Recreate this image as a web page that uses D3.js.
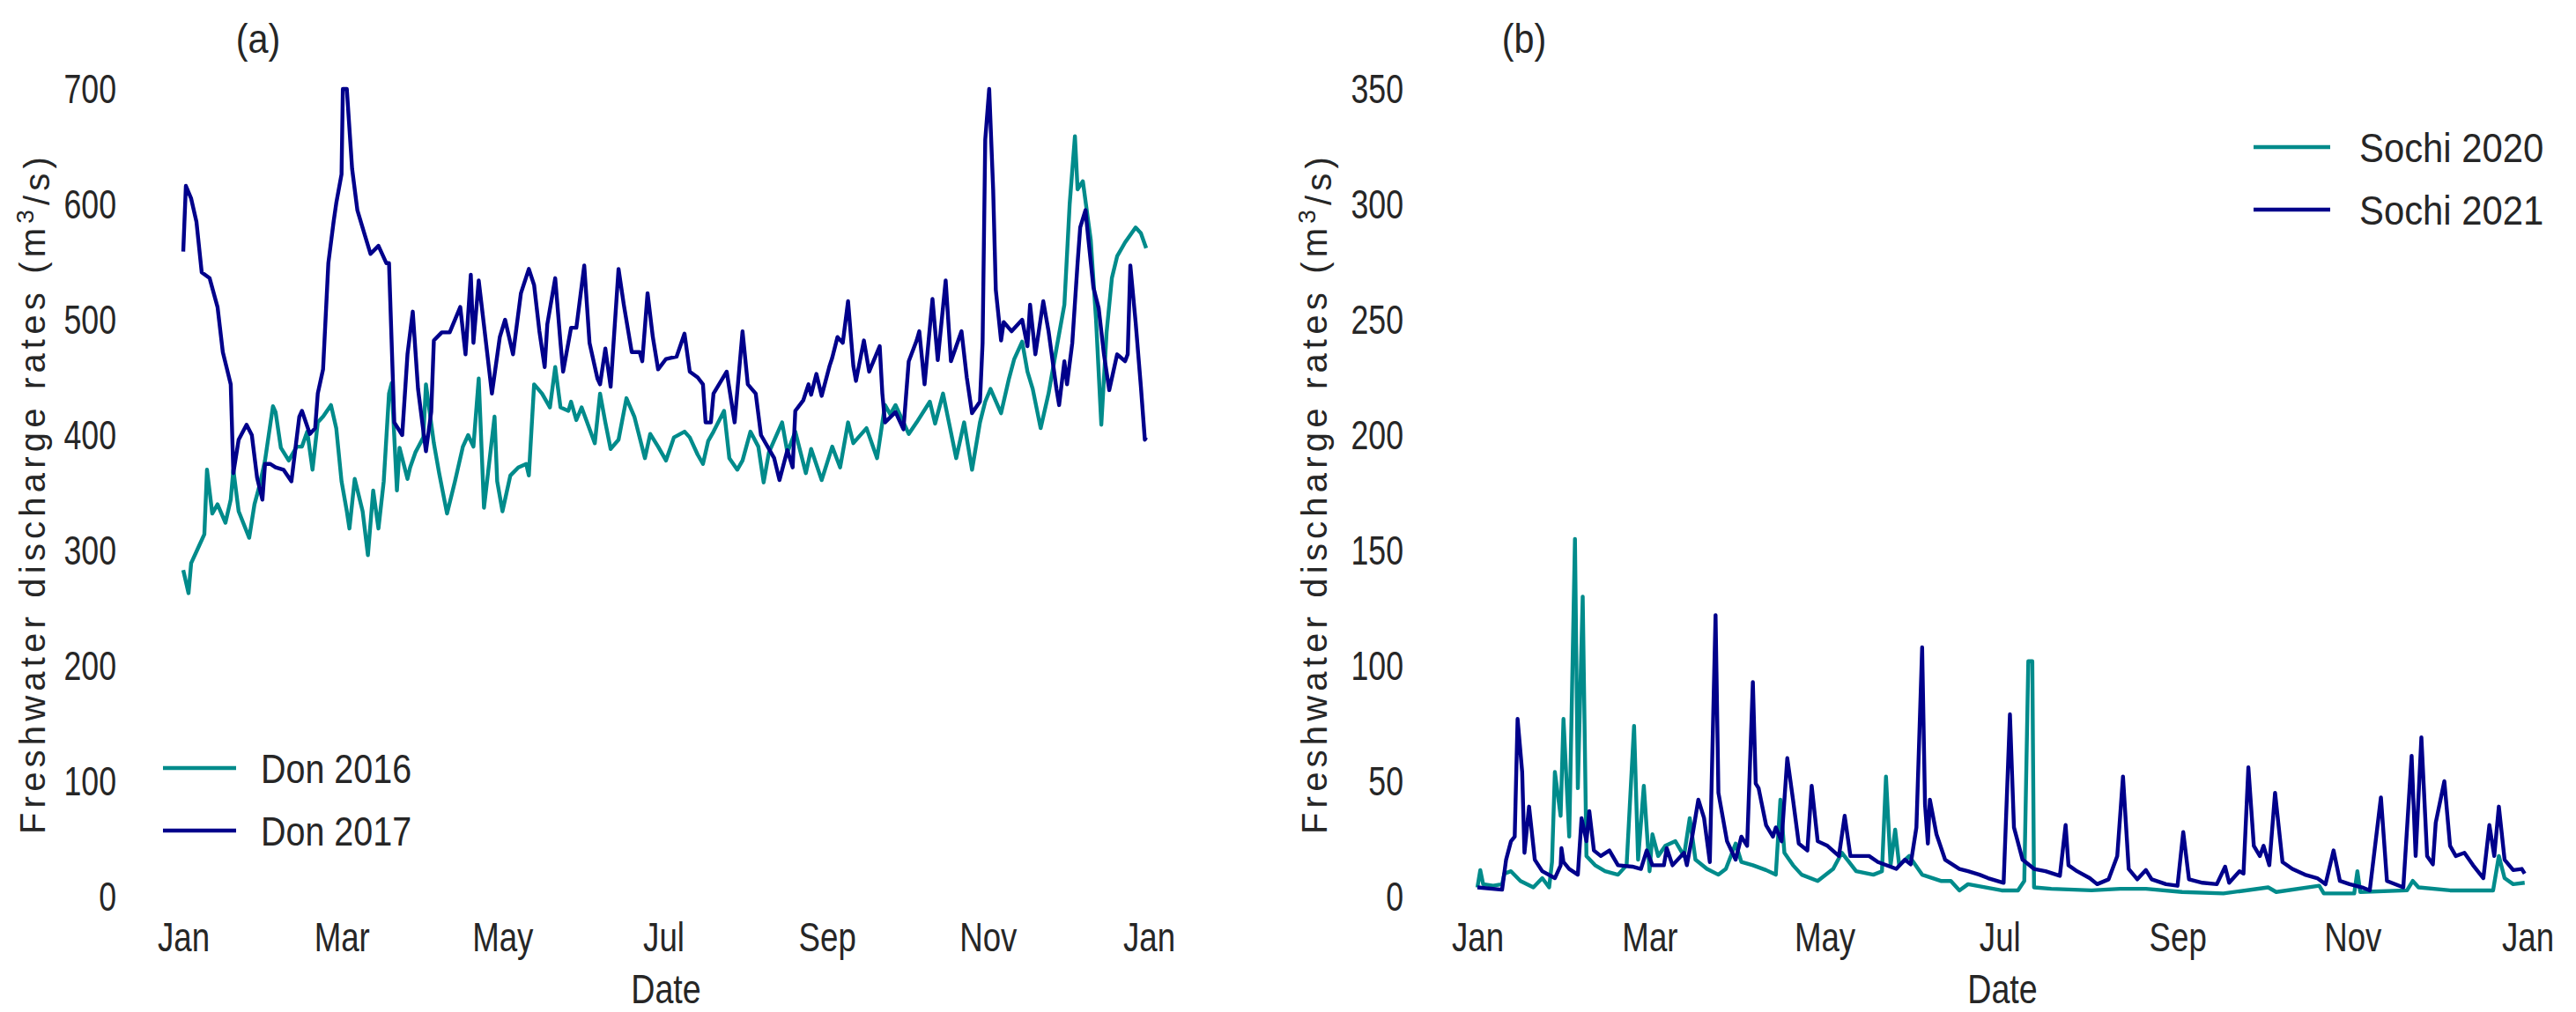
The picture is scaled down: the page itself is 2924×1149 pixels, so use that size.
<!DOCTYPE html>
<html><head><meta charset="utf-8">
<script src="https://cdn.jsdelivr.net/npm/d3@7/dist/d3.min.js"></script>
<style>
body{margin:0;background:#fff}
svg text{font-family:'Liberation Sans',Arial,Helvetica,sans-serif;fill:#262626}
</style>
</head><body>
<svg id="chart" width="2924" height="1149"></svg>
<script>
// ---- data: [day of year, discharge m3/s] ----
const don2016 = [[0,283],[2,263],[3,289],[6,304],[8,314],[9,370],[11,332],[13,340],[16,324],[18,344],[19,370],[21,334],[25,311],[27,340],[29,357],[31,378],[34,425],[35,420],[37,389],[40,378],[43,390],[45,390],[47,403],[49,370],[51,411],[53,416],[56,426],[58,406],[60,360],[62,334],[63,319],[65,362],[68,334],[70,296],[72,352],[74,319],[76,360],[78,436],[79,445],[81,352],[82,389],[85,362],[86,372],[88,385],[91,398],[92,444],[95,393],[97,367],[100,332],[103,360],[106,390],[108,400],[110,390],[112,449],[114,337],[118,416],[119,360],[121,334],[124,365],[127,372],[130,375],[131,365],[133,444],[136,436],[139,424],[141,459],[143,424],[146,421],[147,429],[149,413],[151,424],[156,393],[158,436],[160,411],[162,388],[165,396],[168,432],[171,416],[175,380],[177,401],[180,390],[183,378],[186,398],[190,403],[192,398],[195,383],[197,375],[199,395],[201,403],[205,421],[207,380],[210,370],[212,378],[215,403],[218,390],[220,359],[222,385],[227,411],[229,385],[232,403],[236,367],[238,388],[242,361],[246,390],[249,372],[252,411],[254,393],[259,406],[263,380],[266,426],[268,418],[270,426],[275,401],[278,411],[283,429],[285,410],[288,436],[293,380],[296,411],[299,370],[302,411],[304,429],[306,440],[310,419],[313,449],[315,466],[318,481],[320,455],[322,440],[325,406],[328,436],[331,475],[334,513],[336,600],[338,659],[339,613],[341,620],[344,569],[346,500],[348,409],[350,489],[352,536],[354,555],[357,567],[361,580],[363,575],[365,562]];
const don2017 = [[0,559],[1,616],[3,605],[5,585],[7,541],[10,536],[13,511],[15,472],[18,444],[19,367],[21,396],[24,409],[26,400],[28,363],[30,344],[31,375],[33,375],[35,372],[38,370],[41,360],[44,416],[45,421],[48,401],[50,406],[51,436],[53,457],[55,549],[57,585],[58,601],[60,626],[60.5,700],[62,700],[64,631],[66,595],[69,572],[71,557],[74,564],[77,549],[78,549],[80,411],[83,400],[85,470],[87,507],[89,440],[92,386],[94,420],[95,482],[98,489],[101,489],[105,511],[107,470],[109,539],[110,480],[112,534],[114,495],[117,436],[120,485],[122,500],[125,470],[128,523],[131,544],[133,530],[135,490],[137,459],[138,496],[141,536],[143,480],[144,455],[147,493],[149,493],[152,547],[154,480],[157,449],[158,444],[160,475],[162,442],[165,544],[167,513],[170,472],[173,472],[174,464],[176,523],[178,485],[180,457],[183,466],[187,468],[190,488],[192,455],[195,450],[197,444],[198,411],[200,411],[201,436],[206,455],[209,411],[212,490],[214,444],[217,436],[219,400],[224,380],[226,361],[229,387],[231,372],[232,421],[235,430],[237,444],[238,435],[240,453],[242,434],[245,460],[246,467],[248,485],[250,480],[252,516],[254,460],[255,447],[258,482],[260,455],[264,477],[265,436],[266,411],[270,420],[273,405],[275,464],[278,482],[279,490],[281,444],[284,518],[286,465],[289,534],[291,464],[295,490],[297,450],[299,419],[302,429],[303,480],[304,656],[305.5,700],[307,613],[308,526],[310,482],[311,498],[314,490],[318,500],[320,477],[321,513],[323,470],[326,516],[328,490],[331,440],[332,426],[334,464],[335,444],[337,480],[339,549],[340,580],[342,595],[343,572],[345,528],[347,510],[349,470],[351,439],[354,470],[357,464],[358,470],[359,547],[361,498],[363,442],[364.5,396],[365,398]];
const sochi2020 = [[0,4],[1,11.5],[2,5.4],[5.5,4.7],[8.6,5.4],[9.4,10],[11.7,11],[15,6.8],[19.5,4],[22.6,8],[25,4],[26,15],[27,54],[29,35],[30,77],[32,26],[34,155],[35,47],[36.7,130],[38,17.6],[41,13.6],[44.5,11],[49,9.5],[52,13.6],[54.6,74],[56,16],[58,48],[60,11],[61,27],[63,17.6],[65.5,22],[69,24],[72,17.6],[74,34],[76,16],[80,12],[84,9.5],[86.6,12],[90,23],[92,15],[96,13.6],[100.6,11.5],[104,9.5],[105.6,42],[107,19],[110,13.6],[113,9.5],[118.6,6.8],[124,12],[127,19],[132,11],[138,9.5],[141,11],[142.4,52],[144,13.6],[145.6,29],[147,13.6],[150.5,17.6],[155,9.5],[161.5,6.8],[165,6.8],[168,2.7],[171,5.4],[182.7,2.7],[188.4,2.7],[190.6,6.8],[192,102],[193.4,102],[194,4],[200,3.4],[214,2.7],[224,3.4],[233,3.4],[245.6,2],[260,1.4],[275.6,4],[278.4,2],[293.4,4.7],[295,1.4],[305.6,1.4],[306.7,11],[307.7,2],[324,2.7],[326,6.8],[328,4],[339,2.7],[354,2.7],[356,17.6],[358,8],[361,5.4],[365,6]];
const sochi2021 = [[0,4],[8.6,3],[10,16],[11.7,24],[13,26],[14,77],[15.6,54],[16.4,19],[18,39],[20,16],[22.6,11],[27,8],[29,13.5],[29.3,21],[30,15],[32,12],[35,9.5],[36.3,34],[38,24],[39,37],[40.6,20],[43,17.6],[46,20],[49,13.6],[54,13],[57,12],[59,20],[61,13.6],[65,13.6],[66,21],[68,13.6],[72,19],[73,13.6],[75,27],[77,42],[79,34],[81,15],[83,122],[84,45],[87,24],[90,16],[92,26],[94,22],[96,93],[97,49],[98,47],[100.6,31],[103,26],[104,30],[106,24],[108,60],[110,42],[112,23],[115,20],[116.5,48],[118.6,24],[122,22],[126,17.6],[128,35],[130,17.6],[136.5,17.6],[139.6,15],[146,12],[149,16],[151,14],[153,30],[155,108],[156,40],[157,23],[157.7,42],[160,27],[163,16],[168,12],[171,11],[175,9.5],[178,8],[183.4,6],[185.6,79],[187,30],[190,16],[194,12],[198,11],[203,9],[205,31],[206,13.6],[209,11],[213.4,8],[216,5.4],[220,7.5],[223,17.6],[225,52],[227,12],[230,7.5],[233,11.5],[235,7.5],[240,5.4],[244,4.7],[246,28],[248,7.5],[252.7,6],[257.7,5.4],[260.6,13],[262,6],[265.6,11],[267,10],[268.7,56],[270.6,22],[272.7,17.6],[274,22],[276,13.6],[278,45],[280.6,15],[284,12],[288.4,9.5],[292.7,8],[295.6,5.4],[298.4,20],[300.6,6.8],[304,5.4],[308.4,4],[311,2.7],[314.9,43],[317,6.8],[322.7,4],[325.6,61],[327,17.6],[329,69],[331,17.6],[333,14],[334,32],[337,50],[339,22],[341,17.6],[344,19],[347,13.6],[350.6,8],[352.7,31],[354.4,17.6],[356,39],[358,16],[361,11.5],[364,12],[365,10]];

const ticksA = [0,100,200,300,400,500,600,700];
const ticksB = [0,50,100,150,200,250,300,350];
const namesA = ["Don 2016","Don 2017"];
const namesB = ["Sochi 2020","Sochi 2021"];
const colors = ["#008B8B","#00008B"];

const svg = d3.select("#chart");
const FS = 47;

// horizontally condense text (the original uses a narrow face)
function squeeze(sel, s){
  sel.each(function(){
    const t = d3.select(this);
    const x = +(t.attr("x")||0);
    t.attr("x", x/s).attr("transform", `scale(${s},1)`);
  });
}

function panel(cfg){
  const g = svg.append("g");
  const t0 = new Date(Date.UTC(cfg.year,0,1)), t1 = new Date(Date.UTC(cfg.year+1,0,1));
  const x = d3.scaleUtc().domain([t0,t1]).range([cfg.x0,cfg.x1]);
  const y = d3.scaleLinear().domain([0,cfg.ymax]).range([1018,101]);
  const toDate = d => new Date(t0.getTime() + d*864e5);

  const xa = g.append("g").attr("transform","translate(0,1018)")
    .call(d3.axisBottom(x).ticks(d3.utcMonth.every(2)).tickFormat(d3.utcFormat("%b")).tickSize(0));
  xa.select(".domain").remove();
  xa.selectAll("text").attr("dy",null).attr("y",62).style("font-size",FS+"px").attr("font-family","'Liberation Sans',Arial,sans-serif");
  squeeze(xa.selectAll("text"), 0.78);

  const ya = g.append("g").attr("transform",`translate(${cfg.x0},0)`)
    .call(d3.axisLeft(y).tickValues(cfg.ticks).tickSize(0).tickPadding(cfg.pad));
  ya.select(".domain").remove();
  ya.selectAll("text").style("font-size",FS+"px").attr("font-family","'Liberation Sans',Arial,sans-serif");
  squeeze(ya.selectAll("text"), 0.76);

  const line = d3.line().x(d=>x(toDate(d[0]))).y(d=>y(d[1])).curve(d3.curveLinear);
  cfg.series.forEach((s,i)=>{
    g.append("path").datum(s).attr("d",line).attr("fill","none")
      .attr("stroke",colors[i]).attr("stroke-width",4.4).attr("stroke-linejoin","round");
  });

  // axis titles
  const dt = g.append("text").attr("x",(cfg.x0+cfg.x1)/2).attr("y",1139).attr("text-anchor","middle")
    .style("font-size",FS+"px").text("Date");
  squeeze(dt, 0.8);
  const yt = g.append("text")
    .attr("transform",`translate(${cfg.tx},560) rotate(-90)`).attr("text-anchor","middle")
    .style("font-size","40px").style("letter-spacing","5.2px");
  yt.append("tspan").text("Freshwater discharge rates (m");
  yt.append("tspan").attr("dy","-0.45em").style("font-size","28px").text("3");
  yt.append("tspan").attr("dy","0.45em").text("/s)");

  const lb = g.append("text").attr("x",cfg.lx).attr("y",60).attr("text-anchor","middle")
    .style("font-size",FS+"px").text(cfg.label);
  squeeze(lb, 0.88);

  // legend
  cfg.names.forEach((n,i)=>{
    const ly = cfg.legY + i*71;
    g.append("line").attr("x1",cfg.legX).attr("x2",cfg.legX+cfg.legW).attr("y1",ly).attr("y2",ly)
      .attr("stroke",colors[i]).attr("stroke-width",4.5);
    const lt = g.append("text").attr("x",cfg.legX+cfg.legW+cfg.legGap).attr("y",ly+17)
      .style("font-size",FS+"px").text(n);
    squeeze(lt, cfg.legS);
  });
}

panel({year:2016, x0:208, x1:1304, ymax:700, ticks:ticksA, pad:76, series:[don2016,don2017],
  names:namesA, tx:51, lx:293, label:"(a)", legX:185, legW:83, legGap:28, legY:872, legS:0.84});
panel({year:2020, x0:1677, x1:2869, ymax:350, ticks:ticksB, pad:84, series:[sochi2020,sochi2021],
  names:namesB, tx:1506, lx:1730, label:"(b)", legX:2558, legW:87, legGap:33, legY:167, legS:0.89});
</script>
</body></html>
